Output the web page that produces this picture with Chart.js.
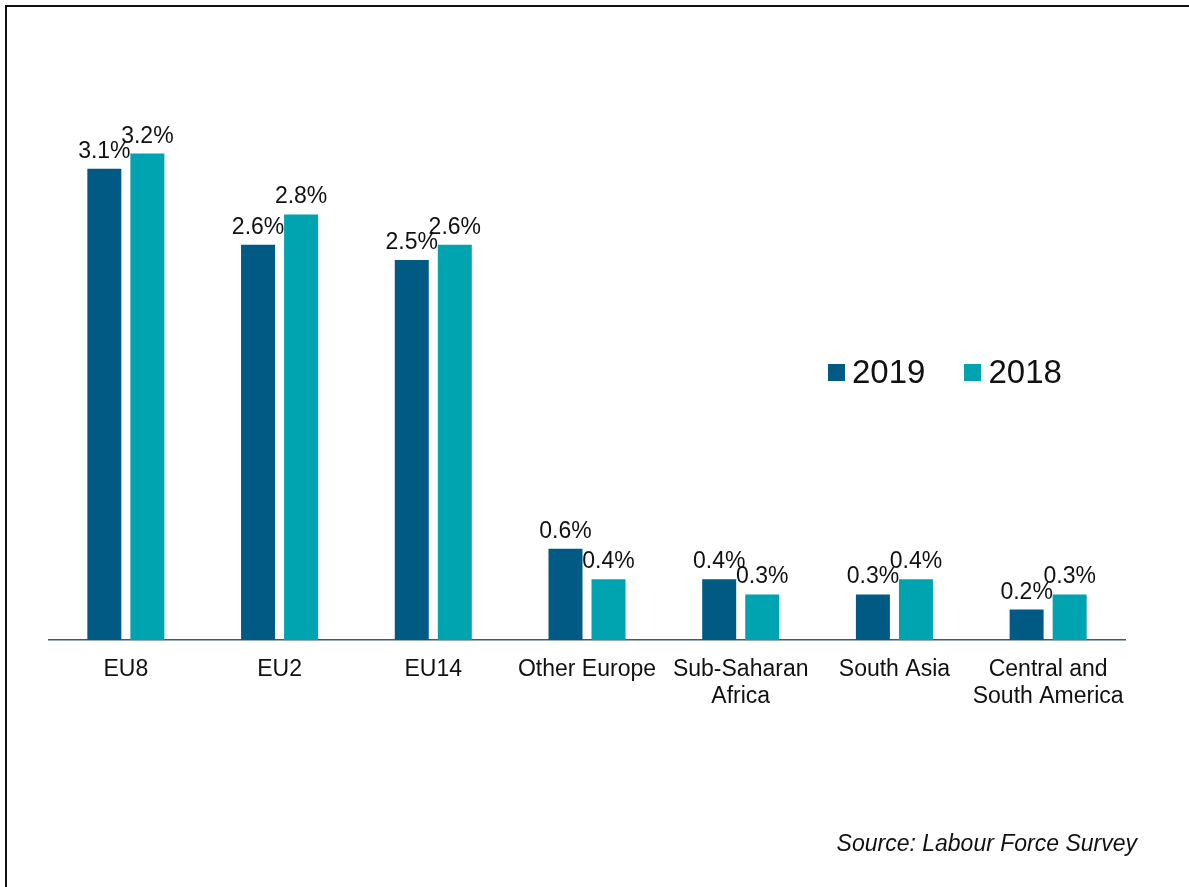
<!DOCTYPE html>
<html>
<head>
<meta charset="utf-8">
<script src="https://cdn.jsdelivr.net/npm/chart.js@4"></script>
<style>
  html, body { margin: 0; padding: 0; background: #fff; }
  body { width: 1189px; height: 887px; position: relative; overflow: hidden; font-family: "Liberation Sans", Arial, sans-serif; }
  #frame { position: absolute; left: 5px; top: 5px; width: 1200px; height: 900px; border-top: 2px solid #111; border-left: 2px solid #111; box-sizing: border-box; }
  #wrap { position: absolute; left: 0; top: 0; width: 1189px; height: 887px; }
  #legend { position: absolute; left: 828px; top: 353px; display: flex; font-size: 33px; color: #111; }
  #legend .item { display: flex; align-items: center; margin-right: 39px; }
  #legend .box { width: 17px; height: 17px; margin-right: 7px; }
  #source { position: absolute; right: 52px; top: 830px; font-size: 23px; font-style: italic; color: #111; }
</style>
</head>
<body>
<div id="frame"></div>
<div id="wrap"><canvas id="bar_regions"></canvas></div>
<div id="legend"></div>
<div id="source">Source: Labour Force Survey</div>
<script>
const categories = ['EU8', 'EU2', 'EU14', 'Other Europe', ['Sub-Saharan', 'Africa'], 'South Asia', ['Central and', 'South America']];
const seriesNames = ['2019', '2018'];
const values2019 = [3.1, 2.6, 2.5, 0.6, 0.4, 0.3, 0.2];
const values2018 = [3.2, 2.8, 2.6, 0.4, 0.3, 0.4, 0.3];
const colours = ['#005a84', '#00a3b0'];

// percentage labels above each bar
const barLabels = {
    id: 'barLabels',
    afterDatasetsDraw(chart) {
        const ctx = chart.ctx;
        ctx.save();
        ctx.font = '23px "Liberation Sans", Arial, sans-serif';
        ctx.fillStyle = '#111';
        ctx.textAlign = 'center';
        ctx.textBaseline = 'alphabetic';
        chart.data.datasets.forEach((ds, i) => {
            chart.getDatasetMeta(i).data.forEach((bar, j) => {
                ctx.fillText(ds.data[j].toFixed(1) + '%', bar.x, bar.y - 11);
            });
        });
        ctx.restore();
    }
};

const chart = new Chart(
    document.getElementById('bar_regions'),
    {
        type: 'bar',
        data: {
            labels: categories,
            datasets: [
                { label: seriesNames[0], data: values2019, backgroundColor: colours[0] },
                { label: seriesNames[1], data: values2018, backgroundColor: colours[1] }
            ]
        },
        options: {
            responsive: true,
            maintainAspectRatio: false,
            animation: false,
            datasets: {
                bar: { categoryPercentage: 0.56, barPercentage: 0.79 }
            },
            layout: { padding: { left: 49, right: 64, top: 32, bottom: 0 } },
            plugins: {
                legend: { display: false },
                tooltip: { enabled: false }
            },
            scales: {
                x: {
                    grid: { display: false, drawTicks: false },
                    border: { display: true, color: '#3b5a6e', width: 1.5 },
                    ticks: {
                        color: '#111',
                        padding: 16,
                        font: { family: '"Liberation Sans", Arial, sans-serif', size: 23, lineHeight: 1.18 },
                        maxRotation: 0,
                        autoSkip: false
                    },
                    afterFit: s => { s.height = 247; }
                },
                y: {
                    display: false,
                    min: 0,
                    max: 4
                }
            }
        },
        plugins: [barLabels]
    }
);

// legend built from the datasets
const legend = document.getElementById('legend');
chart.data.datasets.forEach(ds => {
    const item = document.createElement('div');
    item.className = 'item';
    item.innerHTML = '<span class="box" style="background:' + ds.backgroundColor + '"></span>' + ds.label;
    legend.appendChild(item);
});
</script>
</body>
</html>
